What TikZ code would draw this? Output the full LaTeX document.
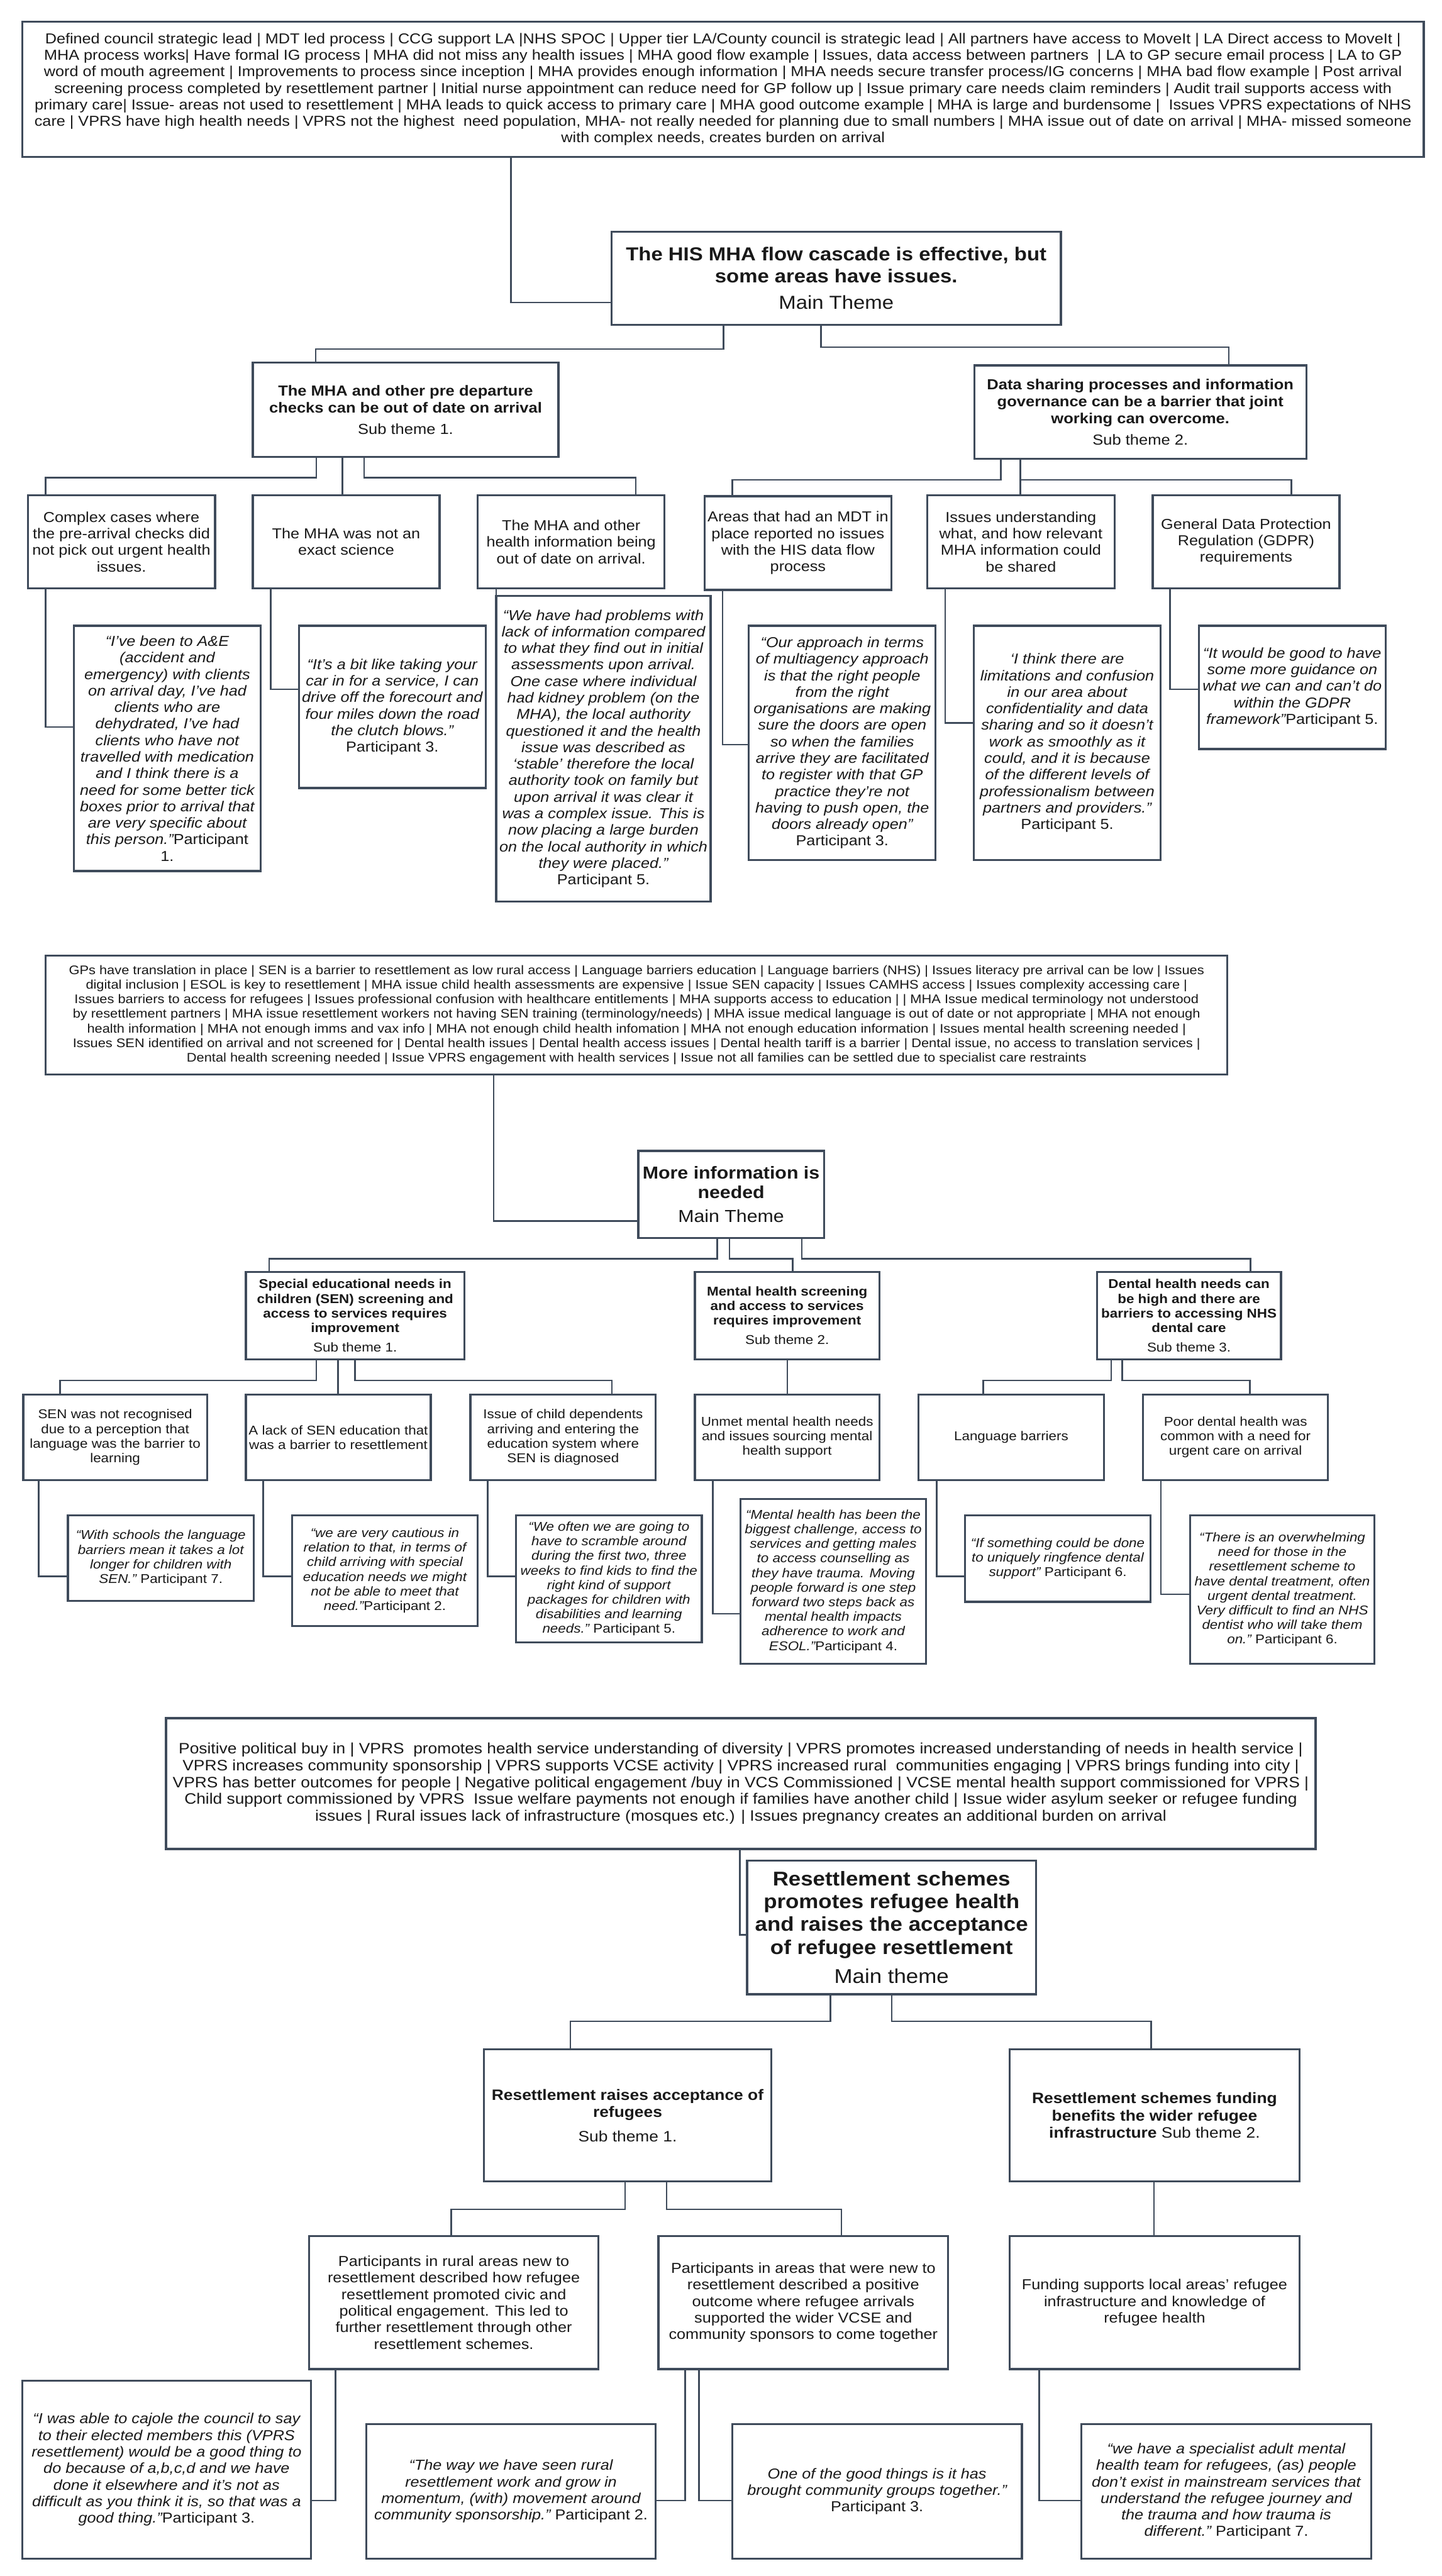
\documentclass[tikz,border=0pt]{standalone}
\usepackage{fontspec}
\setmainfont[FakeStretch=1.1]{Liberation Sans}
\definecolor{bd}{RGB}{63,75,91}
\definecolor{tx}{RGB}{25,25,25}
\tikzset{
 box/.style={draw=bd, line width=1.3pt, fill=white, inner sep=1pt, align=center, text=tx},
 conn/.style={draw=bd, line width=1.0pt},
 fA/.style={font=\fontsize{8.9}{10.2}\selectfont},
 fAq/.style={font=\fontsize{8.9}{10.2}\selectfont\itshape},
 fB/.style={font=\fontsize{7.9}{9.0}\selectfont},
 fBq/.style={font=\fontsize{7.9}{9.0}\selectfont\itshape},
 fC/.style={font=\fontsize{7.7}{9.0}\selectfont},
 fD/.style={font=\fontsize{9.3}{10.4}\selectfont},
 fMa/.style={font=\fontsize{11.6}{13.4}\selectfont\bfseries},
 fMb/.style={font=\fontsize{10.7}{11.9}\selectfont\bfseries},
 fMc/.style={font=\fontsize{12.3}{14.1}\selectfont\bfseries},
 fSa/.style={font=\fontsize{9}{10.4}\selectfont\bfseries},
 fSb/.style={font=\fontsize{7.9}{9.0}\selectfont\bfseries},
 fSc/.style={font=\fontsize{9.3}{10.8}\selectfont\bfseries},
}
\newcommand\BX[7]{\node[box,#6,anchor=north west,minimum width=#4cm,minimum height=#5cm] (#1) at (#2,#3) {#7};}
\begin{document}
\begin{tikzpicture}
\useasboundingbox[fill=white] (0,0) rectangle (31.27,-55.87);
% ================= Section 1 =================
\BX{codes1}{0.46}{-0.45}{30.40}{2.93}{fA}{Defined council strategic lead | MDT led process | CCG support LA |NHS SPOC | Upper tier LA/County council is strategic lead | All partners have access to MoveIt | LA Direct access to MoveIt |\\
MHA process works| Have formal IG process | MHA did not miss any health issues | MHA good flow example | Issues, data access between partners \ | LA to GP secure email process | LA to GP\\
word of mouth agreement | Improvements to process since inception | MHA provides enough information | MHA needs secure transfer process/IG concerns | MHA bad flow example | Post arrival\\
screening process completed by resettlement partner | Initial nurse appointment can reduce need for GP follow up | Issue primary care needs claim reminders | Audit trail supports access with\\
primary care| Issue- areas not used to resettlement | MHA leads to quick access to primary care | MHA good outcome example | MHA is large and burdensome | \ Issues VPRS expectations of NHS\\
care | VPRS have high health needs | VPRS not the highest \ need population, MHA- not really needed for planning due to small numbers | MHA issue out of date on arrival | MHA- missed someone\\
with complex needs, creates burden on arrival}
\BX{main1}{13.24}{-5.00}{9.75}{2.02}{fMa}{The HIS MHA flow cascade is effective, but\\some areas have issues.\\[3pt]{\mdseries Main Theme}}
\BX{sub1}{5.46}{-7.84}{6.63}{2.05}{fSa}{The MHA and other pre departure\\checks can be out of date on arrival\\[3pt]{\mdseries Sub theme 1.}}
\BX{sub2}{21.11}{-7.90}{7.20}{2.03}{fSa}{Data sharing processes and information\\governance can be a barrier that joint\\working can overcome.\\[3pt]{\mdseries Sub theme 2.}}
\BX{l1}{0.58}{-10.72}{4.06}{2.02}{fA}{Complex cases where\\the pre-arrival checks did\\not pick out urgent health\\issues.}
\BX{l2}{5.46}{-10.72}{4.05}{2.02}{fA}{The MHA was not an\\exact science}
\BX{l3}{10.34}{-10.72}{4.05}{2.02}{fA}{The MHA and other\\health information being\\out of date on arrival.}
\BX{l4}{15.26}{-10.74}{4.05}{2.03}{fA}{Areas that had an MDT in\\place reported no issues\\with the HIS data flow\\process}
\BX{l5}{20.09}{-10.72}{4.06}{2.02}{fA}{Issues understanding\\what, and how relevant\\MHA information could\\be shared}
\BX{l6}{24.98}{-10.72}{4.05}{2.02}{fA}{General Data Protection\\Regulation (GDPR)\\requirements}
\BX{q1}{1.58}{-13.55}{4.05}{5.32}{fAq}{“I’ve been to A\&E\\(accident and\\emergency) with clients\\on arrival day, I’ve had\\clients who are\\dehydrated, I’ve had\\clients who have not\\travelled with medication\\and I think there is a\\need for some better tick\\boxes prior to arrival that\\are very specific about\\this person.”{\upshape Participant}\\{\upshape 1.}}
\BX{q2}{6.46}{-13.55}{4.05}{3.52}{fAq}{“It’s a bit like taking your\\car in for a service, I can\\drive off the forecourt and\\four miles down the road\\the clutch blows.”\\{\upshape Participant 3.}}
\BX{q3}{10.74}{-12.90}{4.65}{6.63}{fAq}{“We have had problems with\\lack of information compared\\to what they find out in initial\\assessments upon arrival.\\One case where individual\\had kidney problem (on the\\MHA), the local authority\\questioned it and the health\\issue was described as\\‘stable’ therefore the local\\authority took on family but\\upon arrival it was clear it\\was a complex issue. This is\\now placing a large burden\\on the local authority in which\\they were placed.”\\{\upshape Participant 5.}}
\BX{q4}{16.22}{-13.55}{4.05}{5.08}{fAq}{“Our approach in terms\\of multiagency approach\\is that the right people\\from the right\\organisations are making\\sure the doors are open\\so when the families\\arrive they are facilitated\\to register with that GP\\practice they’re not\\having to push open, the\\doors already open”\\{\upshape Participant 3.}}
\BX{q5}{21.10}{-13.55}{4.05}{5.08}{fAq}{‘I think there are\\limitations and confusion\\in our area about\\confidentiality and data\\sharing and so it doesn’t\\work as smoothly as it\\could, and it is because\\of the different levels of\\professionalism between\\partners and providers.”\\{\upshape Participant 5.}}
\BX{q6}{25.98}{-13.55}{4.05}{2.67}{fAq}{“It would be good to have\\some more guidance on\\what we can and can’t do\\within the GDPR\\framework”{\upshape Participant 5.}}
\draw[conn] (codes1.south -| 11.08,0) -- (11.08,-6.56) -- (main1.west |- 0,-6.56);
\draw[conn] (main1.south -| 15.69,0) -- (15.69,-7.57) -- (6.85,-7.57) -- (sub1.north -| 6.85,0);
\draw[conn] (main1.south -| 17.81,0) -- (17.81,-7.53) -- (26.65,-7.53) -- (sub2.north -| 26.65,0);
\draw[conn] (sub1.south -| 6.86,0) -- (6.86,-10.36) -- (0.99,-10.36) -- (l1.north -| 0.99,0);
\draw[conn] (sub1.south -| 7.43,0) -- (l2.north -| 7.43,0);
\draw[conn] (sub1.south -| 7.90,0) -- (7.90,-10.36) -- (13.79,-10.36) -- (l3.north -| 13.79,0);
\draw[conn] (sub2.south -| 21.71,0) -- (21.71,-10.41) -- (15.88,-10.41) -- (l4.north -| 15.88,0);
\draw[conn] (sub2.south -| 22.13,0) -- (l5.north -| 22.13,0);
\draw[conn] (sub2.south -| 22.13,0) -- (22.13,-10.41) -- (28.01,-10.41) -- (l6.north -| 28.01,0);
\draw[conn] (l1.south -| 0.99,0) -- (0.99,-15.77) -- (q1.west |- 0,-15.77);
\draw[conn] (l2.south -| 5.87,0) -- (5.87,-14.95) -- (q2.west |- 0,-14.95);
\draw[conn] (l3.south -| 10.76,0) -- (q3.north -| 10.76,0);
\draw[conn] (l4.south -| 15.67,0) -- (15.67,-16.15) -- (q4.west |- 0,-16.15);
\draw[conn] (l5.south -| 20.50,0) -- (20.50,-15.68) -- (q5.west |- 0,-15.68);
\draw[conn] (l6.south -| 25.38,0) -- (25.38,-14.95) -- (q6.west |- 0,-14.95);
% ================= Section 2 =================
\BX{codes2}{0.97}{-20.70}{25.63}{2.58}{fC}{GPs have translation in place | SEN is a barrier to resettlement as low rural access | Language barriers education | Language barriers (NHS) | Issues literacy pre arrival can be low | Issues\\
digital inclusion | ESOL is key to resettlement | MHA issue child health assessments are expensive | Issue SEN capacity | Issues CAMHS access | Issues complexity accessing care |\\
Issues barriers to access for refugees | Issues professional confusion with healthcare entitlements | MHA supports access to education | | MHA Issue medical terminology not understood\\
by resettlement partners | MHA issue resettlement workers not having SEN training (terminology/needs) | MHA issue medical language is out of date or not appropriate | MHA not enough\\
health information | MHA not enough imms and vax info | MHA not enough child health infomation | MHA not enough education information | Issues mental health screening needed |\\
Issues SEN identified on arrival and not screened for | Dental health issues | Dental health access issues | Dental health tariff is a barrier | Dental issue, no access to translation services |\\
Dental health screening needed | Issue VPRS engagement with health services | Issue not all families can be settled due to specialist care restraints}
\BX{main2}{13.82}{-24.94}{4.03}{1.89}{fMb}{More information is\\needed\\[3pt]{\mdseries Main Theme}}
\BX{s1}{5.31}{-27.56}{4.74}{1.90}{fSb}{Special educational needs in\\children (SEN) screening and\\access to services requires\\improvement\\[3pt]{\mdseries Sub theme 1.}}
\BX{s2}{15.05}{-27.56}{4.00}{1.90}{fSb}{Mental health screening\\and access to services\\requires improvement\\[3pt]{\mdseries Sub theme 2.}}
\BX{s3}{23.77}{-27.56}{3.99}{1.90}{fSb}{Dental health needs can\\be high and there are\\barriers to accessing NHS\\dental care\\[3pt]{\mdseries Sub theme 3.}}
\BX{m1}{0.48}{-30.22}{3.99}{1.86}{fB}{SEN was not recognised\\due to a perception that\\language was the barrier to\\learning}
\BX{m2}{5.31}{-30.22}{4.01}{1.86}{fB}{A lack of SEN education that\\was a barrier to resettlement}
\BX{m3}{10.18}{-30.22}{4.02}{1.86}{fB}{Issue of child dependents\\arriving and entering the\\education system where\\SEN is diagnosed}
\BX{m4}{15.05}{-30.22}{4.00}{1.86}{fB}{Unmet mental health needs\\and issues sourcing mental\\health support}
\BX{m5}{19.90}{-30.22}{4.02}{1.86}{fB}{Language barriers}
\BX{m6}{24.77}{-30.22}{4.01}{1.86}{fB}{Poor dental health was\\common with a need for\\urgent care on arrival}
\BX{mq1}{1.45}{-32.84}{4.03}{1.86}{fBq}{“With schools the language\\barriers mean it takes a lot\\longer for children with\\SEN.”{\upshape\ Participant 7.}}
\BX{mq2}{6.31}{-32.84}{4.03}{2.40}{fBq}{“we are very cautious in\\relation to that, in terms of\\child arriving with special\\education needs we might\\not be able to meet that\\need.”{\upshape Participant 2.}}
\BX{mq3}{11.17}{-32.84}{4.03}{2.76}{fBq}{“We often we are going to\\have to scramble around\\during the first two, three\\weeks to find kids to find the\\right kind of support\\packages for children with\\disabilities and learning\\needs.”{\upshape\ Participant 5.}}
\BX{mq4}{16.04}{-32.49}{4.02}{3.57}{fBq}{“Mental health has been the\\biggest challenge, access to\\services and getting males\\to access counselling as\\they have trauma. Moving\\people forward is one step\\forward two steps back as\\mental health impacts\\adherence to work and\\ESOL.”{\upshape Participant 4.}}
\BX{mq5}{20.91}{-32.84}{4.02}{1.88}{fBq}{“If something could be done\\to uniquely ringfence dental\\support”{\upshape\ Participant 6.}}
\BX{mq6}{25.79}{-32.84}{4.00}{3.22}{fBq}{“There is an overwhelming\\need for those in the\\resettlement scheme to\\have dental treatment, often\\urgent dental treatment.\\Very difficult to find an NHS\\dentist who will take them\\on.”{\upshape\ Participant 6.}}
\draw[conn] (codes2.south -| 10.71,0) -- (10.71,-26.48) -- (main2.west |- 0,-26.48);
\draw[conn] (main2.south -| 15.56,0) -- (15.56,-27.30) -- (5.84,-27.30) -- (s1.north -| 5.84,0);
\draw[conn] (main2.south -| 15.82,0) -- (15.82,-27.30) -- (17.19,-27.30) -- (s2.north -| 17.19,0);
\draw[conn] (main2.south -| 17.39,0) -- (17.39,-27.30) -- (27.12,-27.30) -- (s3.north -| 27.12,0);
\draw[conn] (s1.south -| 6.86,0) -- (6.86,-29.94) -- (1.30,-29.94) -- (m1.north -| 1.30,0);
\draw[conn] (s1.south -| 7.33,0) -- (m2.north -| 7.33,0);
\draw[conn] (s1.south -| 7.70,0) -- (7.70,-29.94) -- (13.27,-29.94) -- (m3.north -| 13.27,0);
\draw[conn] (s2.south -| 17.08,0) -- (m4.north -| 17.08,0);
\draw[conn] (s3.south -| 24.10,0) -- (24.10,-29.94) -- (21.33,-29.94) -- (m5.north -| 21.33,0);
\draw[conn] (s3.south -| 24.34,0) -- (24.34,-29.94) -- (27.11,-29.94) -- (m6.north -| 27.11,0);
\draw[conn] (m1.south -| 0.84,0) -- (0.84,-34.19) -- (mq1.west |- 0,-34.19);
\draw[conn] (m2.south -| 5.71,0) -- (5.71,-34.19) -- (mq2.west |- 0,-34.19);
\draw[conn] (m3.south -| 10.58,0) -- (10.58,-34.19) -- (mq3.west |- 0,-34.19);
\draw[conn] (m4.south -| 15.46,0) -- (15.46,-35.00) -- (mq4.west |- 0,-35.00);
\draw[conn] (m5.south -| 20.32,0) -- (20.32,-34.19) -- (mq5.west |- 0,-34.19);
\draw[conn] (m6.south -| 25.18,0) -- (25.18,-34.58) -- (mq6.west |- 0,-34.58);
% ================= Section 3 =================
\BX{codes3}{3.58}{-37.24}{24.93}{2.84}{fD}{Positive political buy in | VPRS \ promotes health service understanding of diversity | VPRS promotes increased understanding of needs in health service |\\
VPRS increases community sponsorship | VPRS supports VCSE activity | VPRS increased rural \ communities engaging | VPRS brings funding into city |\\
VPRS has better outcomes for people | Negative political engagement /buy in VCS Commissioned | VCSE mental health support commissioned for VPRS |\\
Child support commissioned by VPRS \ Issue welfare payments not enough if families have another child | Issue wider asylum seeker or refugee funding\\
issues | Rural issues lack of infrastructure (mosques etc.) | Issues pregnancy creates an additional burden on arrival}
\BX{main3}{16.18}{-40.33}{6.27}{2.90}{fMc}{Resettlement schemes\\promotes refugee health\\and raises the acceptance\\of refugee resettlement\\[4pt]{\mdseries Main theme}}
\BX{t1}{10.47}{-44.42}{6.24}{2.87}{fSc}{Resettlement raises acceptance of\\refugees\\[4pt]{\mdseries Sub theme 1.}}
\BX{t2}{21.88}{-44.42}{6.28}{2.87}{fSc}{Resettlement schemes funding\\benefits the wider refugee\\infrastructure {\mdseries Sub theme 2.}}
\BX{r1}{6.68}{-48.47}{6.28}{2.89}{fA}{Participants in rural areas new to\\resettlement described how refugee\\resettlement promoted civic and\\political engagement. This led to\\further resettlement through other\\resettlement schemes.}
\BX{r2}{14.26}{-48.47}{6.28}{2.89}{fA}{Participants in areas that were new to\\resettlement described a positive\\outcome where refugee arrivals\\supported the wider VCSE and\\community sponsors to come together}
\BX{r3}{21.88}{-48.47}{6.28}{2.89}{fA}{Funding supports local areas’ refugee\\infrastructure and knowledge of\\refugee health}
\BX{rq1}{0.46}{-51.61}{6.26}{3.86}{fAq}{“I was able to cajole the council to say\\to their elected members this (VPRS\\resettlement) would be a good thing to\\do because of a,b,c,d and we have\\done it elsewhere and it’s not as\\difficult as you think it is, so that was a\\good thing.”{\upshape Participant 3.}}
\BX{rq2}{7.92}{-52.55}{6.28}{2.92}{fAq}{“The way we have seen rural\\resettlement work and grow in\\momentum, (with) movement around\\community sponsorship.”{\upshape\ Participant 2.}}
\BX{rq3}{15.86}{-52.55}{6.28}{2.92}{fAq}{One of the good things is it has\\brought community groups together.”\\{\upshape Participant 3.}}
\BX{rq4}{23.43}{-52.55}{6.29}{2.92}{fAq}{“we have a specialist adult mental\\health team for refugees, (as) people\\don’t exist in mainstream services that\\understand the refugee journey and\\the trauma and how trauma is\\different.”{\upshape\ Participant 7.}}
\draw[conn] (codes3.south -| 16.05,0) -- (16.05,-41.96) -- (main3.west |- 0,-41.96);
\draw[conn] (main3.south -| 18.01,0) -- (18.01,-43.84) -- (12.37,-43.84) -- (t1.north -| 12.37,0);
\draw[conn] (main3.south -| 19.34,0) -- (19.34,-43.84) -- (24.97,-43.84) -- (t2.north -| 24.97,0);
\draw[conn] (t1.south -| 13.56,0) -- (13.56,-47.92) -- (9.79,-47.92) -- (r1.north -| 9.79,0);
\draw[conn] (t1.south -| 14.46,0) -- (14.46,-47.92) -- (18.25,-47.92) -- (r2.north -| 18.25,0);
\draw[conn] (t2.south -| 25.03,0) -- (r3.north -| 25.03,0);
\draw[conn] (r1.south -| 7.28,0) -- (7.28,-54.23) -- (rq1.east |- 0,-54.23);
\draw[conn] (r2.south -| 14.86,0) -- (14.86,-54.23) -- (rq2.east |- 0,-54.23);
\draw[conn] (r2.south -| 15.16,0) -- (15.16,-54.23) -- (rq3.west |- 0,-54.23);
\draw[conn] (r3.south -| 22.54,0) -- (22.54,-54.23) -- (rq4.west |- 0,-54.23);
\end{tikzpicture}
\end{document}
